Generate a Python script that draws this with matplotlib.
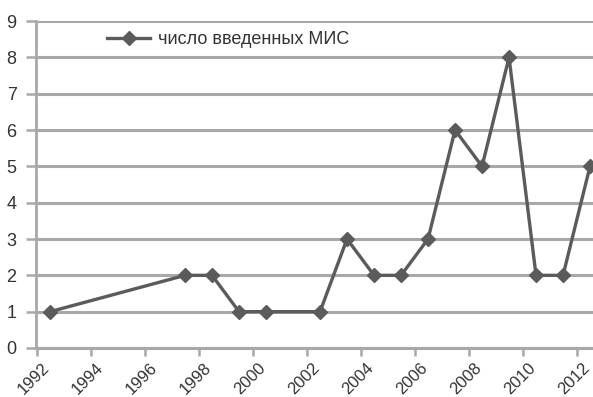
import matplotlib
matplotlib.use("Agg")
import matplotlib.pyplot as plt
import matplotlib.transforms as mtransforms
import numpy as np

years = [1992, 1997, 1998, 1999, 2000, 2002, 2003, 2004, 2005, 2006, 2007, 2008, 2009, 2010, 2011, 2012]
values = [1, 2, 2, 1, 1, 1, 3, 2, 2, 3, 6, 5, 8, 2, 2, 5]
tick_years = list(range(1992, 2013, 2))
series_label = "число введенных МИС"

plt.rcParams['font.family'] = ['Liberation Sans', 'DejaVu Sans']

fig = plt.figure(figsize=(5.93, 3.97), dpi=100)
ax = fig.add_axes([36/593, 1 - 348/397, 1 - 36/593, (348 - 21)/397])

line_col = '#5b5b5b'
grid_col = '#a8a8a8'
text_col = '#333333'

ax.plot(years, values, color=line_col, lw=2.4, marker='D', ms=7.5, mec=line_col, mfc=line_col,
        label=series_label, zorder=3, clip_on=False)

ax.set_ylim(0, 9)
ax.set_xlim(1991.48, 2012.11)
ax.set_yticks(range(0, 10))
ax.yaxis.grid(True, color=grid_col, lw=2.2)
ax.set_axisbelow(True)

ax.set_xticks(tick_years)
ax.set_xticklabels([str(y) for y in tick_years], rotation=45, ha='right', va='top',
                   rotation_mode='anchor', fontsize=12, color=text_col)
ax.tick_params(axis='x', which='major', length=0, pad=9)
offset = mtransforms.ScaledTranslation(-8.5/100, 0, fig.dpi_scale_trans)
for lbl in ax.get_xticklabels():
    lbl.set_transform(lbl.get_transform() + offset)
ax.set_xticks(np.arange(1991.5, 2012.2, 2), minor=True)
ax.tick_params(axis='x', which='minor', length=6, width=1.8, color=grid_col, direction='out')
ax.tick_params(axis='y', length=7, width=1.8, color=grid_col, labelsize=13, labelcolor=text_col, pad=7)

for s in ['top', 'right']:
    ax.spines[s].set_visible(False)
ax.spines['left'].set_color(grid_col)
ax.spines['left'].set_linewidth(2.0)
ax.spines['bottom'].set_color(grid_col)
ax.spines['bottom'].set_linewidth(2.2)

ax.legend(loc='center left', bbox_to_anchor=(107/593, 1 - 40/397), bbox_transform=fig.transFigure,
          frameon=False, fontsize=13, borderpad=0, borderaxespad=0,
          handlelength=2.4, handletextpad=0.45, labelcolor=text_col)

fig.savefig('out.png', dpi=100)
